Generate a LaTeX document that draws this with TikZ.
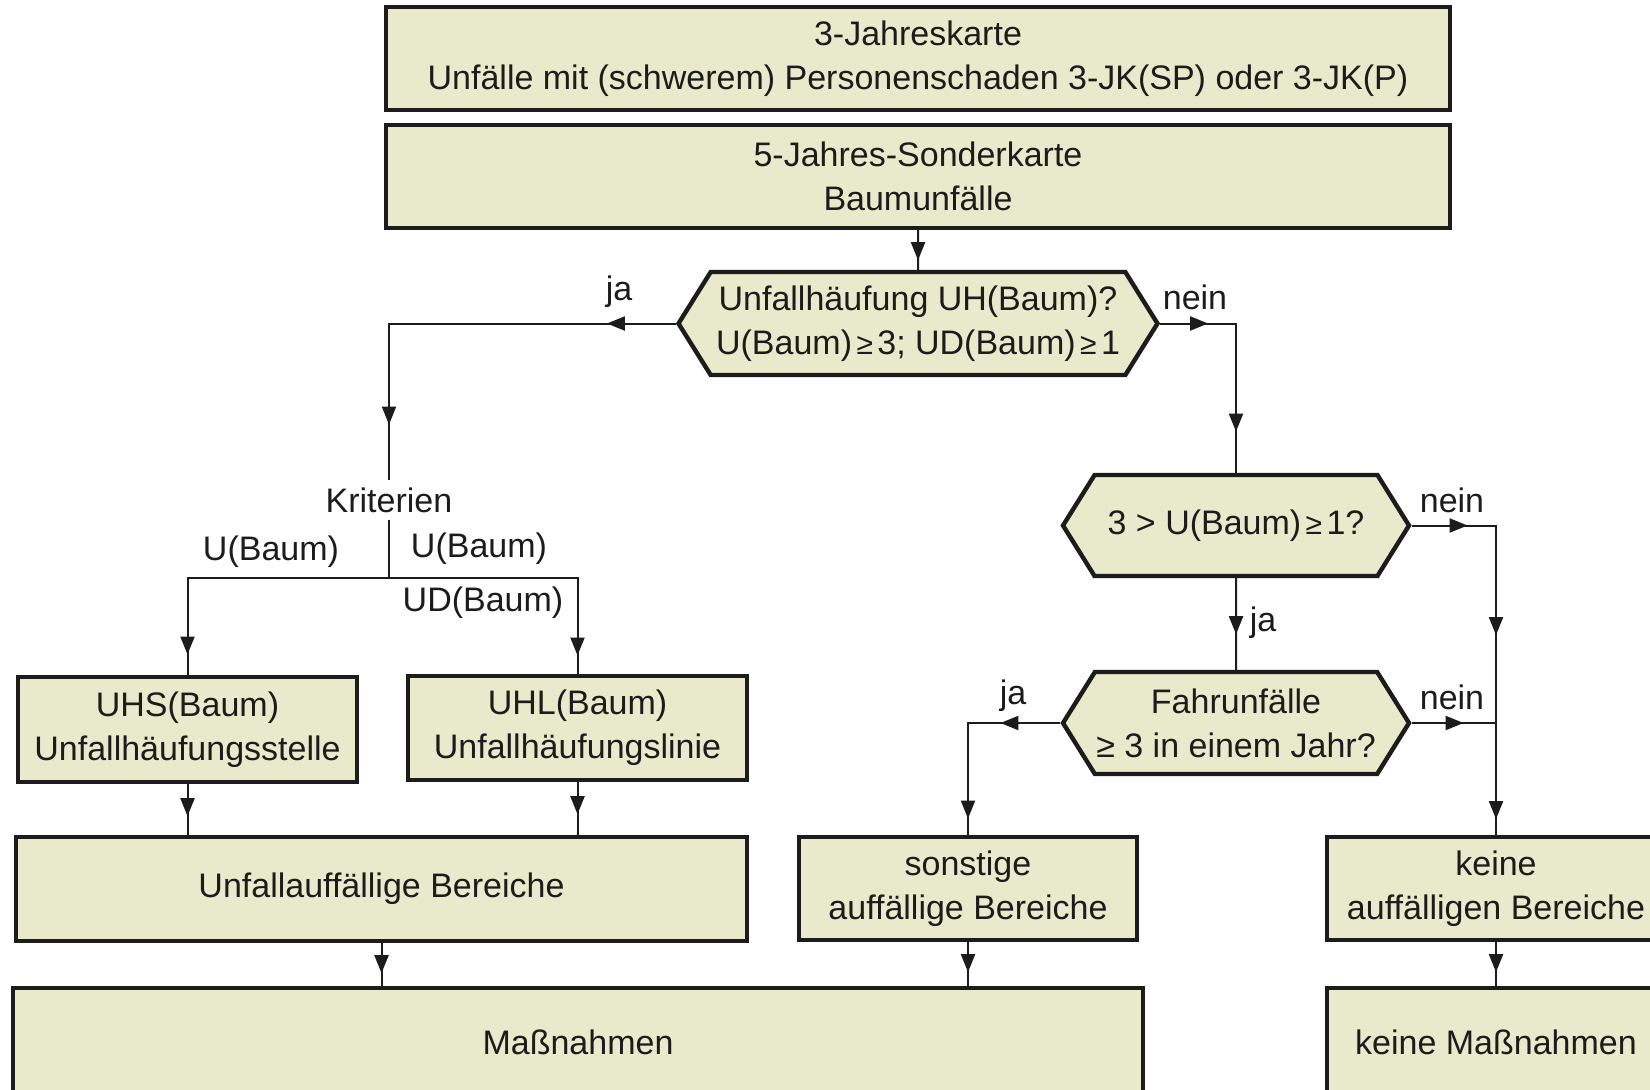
\documentclass[tikz,border=0pt]{standalone}
\usepackage{fontspec}
\setmainfont{Liberation Sans}
\usetikzlibrary{shapes.symbols,arrows.meta,decorations.markings}
\definecolor{boxfill}{HTML}{E9E9CB}
\definecolor{ink}{HTML}{1C1C1C}
\newcommand{\geqsmall}{\kern2.2pt{\fontsize{15}{15}\selectfont ≥}\kern2.2pt}
\begin{document}
\begin{tikzpicture}[x=0.5pt,y=-0.5pt,
				every node/.style={font=\fontsize{17}{22}\selectfont,text=ink},
				box/.style={draw=ink,fill=boxfill,line width=2.2pt,align=center,inner sep=0pt,minimum height=51.5pt},
				query/.style={box,signal,signal to=west and east,signal pointer angle=116},
				tipdef/.style={line width=1pt,draw=ink,postaction={decorate}},
				flow/.style={tipdef,decoration={markings,
					mark=at position #1 with {\arrow{Triangle[length=9pt,width=7pt]}}}},
				flowtwo/.style 2 args={tipdef,decoration={markings,
					mark=at position #1 with {\arrow{Triangle[length=9pt,width=7pt]}},
					mark=at position #2 with {\arrow{Triangle[length=9pt,width=7pt]}}}},
				flowthree/.style n args={3}{tipdef,decoration={markings,
					mark=at position #1 with {\arrow{Triangle[length=9pt,width=7pt]}},
					mark=at position #2 with {\arrow{Triangle[length=9pt,width=7pt]}},
					mark=at position #3 with {\arrow{Triangle[length=9pt,width=7pt]}}}}]
\path[fill=white,use as bounding box] (0,0) rectangle (1650,1089);
\clip (0,0) rectangle (1650,1089);
\node[box,minimum width=532pt] (jk3) at (918,58.5) {3-Jahreskarte\\Unfälle mit (schwerem) Personenschaden 3-JK(SP) oder 3-JK(P)};
\node[box,minimum width=532pt] (sk5) at (918,176.5) {5-Jahres-Sonderkarte\\Baumunfälle};
\node[query,minimum width=239.5pt] (uh) at (918,323.5) {Unfallhäufung UH(Baum)?\\U(Baum)\geqsmall3; UD(Baum)\geqsmall1};
\node (krit) at (389,500) {Kriterien};
\coordinate (split) at (389,578);
\node (ubl) at (271,552) {U(Baum)};
\node (ubr) at (479,549) {U(Baum)};
\node (udr) at (483,603) {UD(Baum)};
\node[box,minimum width=169.5pt,minimum height=52.5pt] (uhs) at (187.5,729.5) {UHS(Baum)\\Unfallhäufungsstelle};
\node[box,minimum width=169.5pt,minimum height=52pt] (uhl) at (577.5,728) {UHL(Baum)\\Unfallhäufungslinie};
\node[box,minimum width=365.5pt,minimum height=52pt] (unf) at (381.5,889) {Unfallauffällige Bereiche};
\node[query,minimum width=173pt,minimum height=50.5pt] (ub) at (1236,525.5) {3 > U(Baum)\geqsmall1?};
\node[query,minimum width=173pt,minimum height=51pt] (fu) at (1236,723) {Fahrunfälle\\≥ 3 in einem Jahr?};
\node[box,minimum width=169pt] (son) at (968,888.5) {sonstige\\auffällige Bereiche};
\node[box,minimum width=169pt] (kab) at (1496,888.5) {keine\\auffälligen Bereiche};
\node[box,minimum width=565pt,minimum height=54pt] (mass) at (578,1042) {Maßnahmen};
\node[box,minimum width=169pt,minimum height=54pt] (kmass) at (1496,1042) {keine Maßnahmen};
\node (ja1) at (619,292) {ja};
\node (nein1) at (1195,297) {nein};
\node (nein2) at (1452,500) {nein};
\node (ja2) at (1263,623) {ja};
\node (nein3) at (1452,697) {nein};
\node (ja3) at (1013,696) {ja};
\coordinate (join) at (kab.north |- fu.east);
\draw[flow=15pt] (sk5) -- (uh);
\draw[flowtwo={34.5pt}{194pt}] (uh.west) -| (krit.north);
\draw[flowtwo={24pt}{92pt}] (uh.east) -| (ub.north);
\draw[tipdef] (krit) -- (split);
\draw[flow=139pt] (split) -| (uhs.north);
\draw[flow=133pt] (split) -| (uhl.north);
\draw[flow=16pt] (uhs) -- (uhs |- unf.north);
\draw[flow=16pt] (uhl) -- (uhl |- unf.north);
\draw[flow=15pt] (unf) -- (unf |- mass.north);
\draw[flow=15pt] (son) -- (son |- mass.north);
\draw[flow=15pt] (kab) -- (kmass);
\draw[flow=28pt] (ub) -- (fu);
\draw[flowthree={28pt}{97pt}{189pt}] (ub.east) -| (kab.north);
\draw[flow=26pt] (fu.east) -- (join);
\draw[flowtwo={30pt}{94pt}] (fu.west) -| (son.north);
\end{tikzpicture}
\end{document}
